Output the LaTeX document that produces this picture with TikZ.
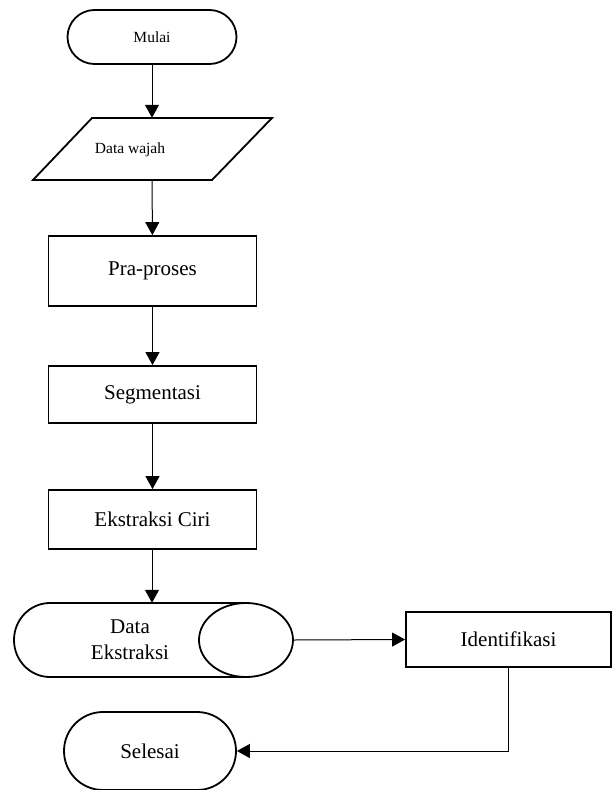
\documentclass[tikz,border=0pt]{standalone}
\usepackage{fontspec}
\setmainfont{Liberation Serif}
\usetikzlibrary{arrows.meta,shapes.geometric}

\begin{document}
\begin{tikzpicture}[
        x=1pt, y=-1pt,
        outline/.style={draw, line width=1.8pt},
        smalltxt/.style={font=\fontsize{15.5}{18}\selectfont},
        bigtxt/.style={font=\fontsize{21}{26}\selectfont},
        terminal/.style={outline, smalltxt, inner sep=0pt},
        prosesbox/.style={outline, bigtxt, inner sep=0pt, minimum width=208pt},
        arr/.style={line width=1pt, -{Triangle[length=13pt,width=14pt]}}
    ]
        \useasboundingbox (0,0) rectangle (612,790);

        \node[terminal, rounded corners=27pt, minimum width=169pt, minimum height=54pt] (mulai) at (152,37) {Mulai};

        % data input
        \draw[outline] (92,118) -- (272,118) -- (212,180) -- (33,180) -- cycle;
        \node[minimum width=180pt, minimum height=62pt, inner sep=0pt] (wajah) at (152,149) {};
        \node[smalltxt] (wajahtxt) at (130,150) {Data wajah};

        \node[prosesbox, minimum height=70pt] (praproses) at (152.5,271) {Pra-proses};
        \node[prosesbox, minimum height=57pt] (segmen) at (152.5,394.5) {Segmentasi};
        \node[prosesbox, minimum height=59pt] (ciri) at (152.5,519.5) {Ekstraksi Ciri};

        % stored data
        \draw[outline] (246,603) -- (50,603)
            arc [start angle=90, end angle=270, x radius=36pt, y radius=37pt] -- (246,677);
        \node[outline, ellipse, minimum width=94pt, minimum height=74pt, inner sep=0pt] (eksell) at (246,640) {};
        \node[minimum height=74pt, inner sep=0pt] (dataeks) at (152,640) {};
        \node[bigtxt, align=center] (dataekstxt) at (130,640) {Data\\Ekstraksi};

        \node[prosesbox, minimum width=205pt, minimum height=55pt] (ident) at (508.5,639.5) {Identifikasi};

        \node[terminal, bigtxt, rounded corners=39pt, minimum width=172pt, minimum height=78pt] (selesai) at (150,751) {Selesai};

        \draw[arr] (mulai) -- (wajah);
        \draw[arr] (wajah) -- (praproses);
        \draw[arr] (praproses) -- (segmen);
        \draw[arr] (segmen) -- (ciri);
        \draw[arr] (ciri.south -| dataeks) -- (dataeks.north);
        \draw[arr] (eksell.east) -- (ident.west);
        \draw[arr] (ident.south) |- (selesai.east);
    \end{tikzpicture}
\end{document}
